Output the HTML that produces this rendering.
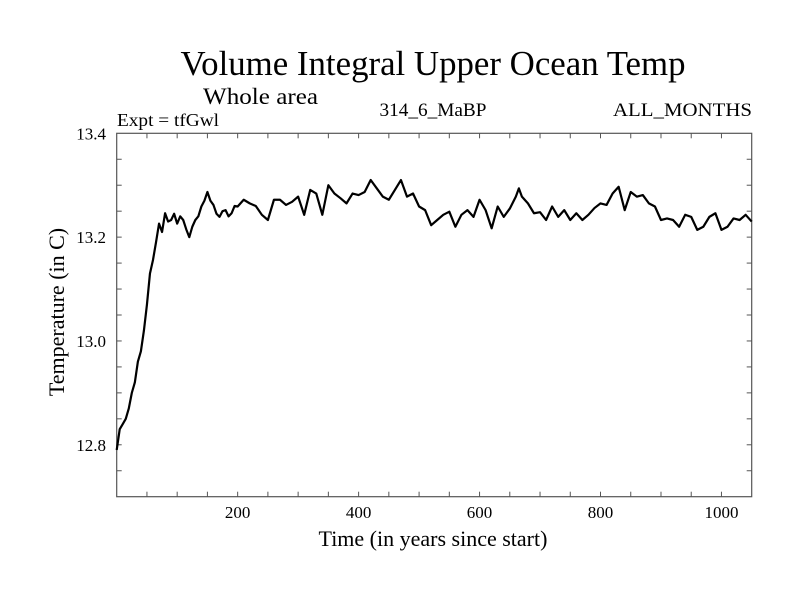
<!DOCTYPE html>
<html><head><meta charset="utf-8"><style>
html,body{margin:0;padding:0;background:#fff;}
svg{display:block;font-family:"Liberation Serif",serif;}
</style></head><body>
<svg id="chart" width="800" height="600" viewBox="0 0 800 600" xmlns="http://www.w3.org/2000/svg">
<rect width="800" height="600" fill="#fff"/>
<text x="433" y="75" font-size="35" text-anchor="middle" textLength="505" lengthAdjust="spacingAndGlyphs">Volume Integral Upper Ocean Temp</text>
<text x="203" y="104" font-size="23" textLength="115" lengthAdjust="spacingAndGlyphs">Whole area</text>
<text x="117" y="126" font-size="18" textLength="102" lengthAdjust="spacingAndGlyphs">Expt = tfGwl</text>
<text x="433" y="116" font-size="19" text-anchor="middle" textLength="107" lengthAdjust="spacingAndGlyphs">314_6_MaBP</text>
<text x="752" y="116" font-size="19" text-anchor="end" textLength="139" lengthAdjust="spacingAndGlyphs">ALL_MONTHS</text>
<g id="axes"></g>
<text x="433" y="546" font-size="22" text-anchor="middle">Time (in years since start)</text>
<text x="0" y="0" font-size="22" text-anchor="middle" transform="translate(64,312) rotate(-90)">Temperature (in C)</text>
</svg>
<script>
const years = [0,5,10,15,20,25,30,35,40,45,50,55,60,65,70,75,80,85,90,95,100,105,110,115,120,125,130,135,140,145,150,155,160,165,170,175,180,185,190,195,200,210,220,230,240,250,260,270,280,290,300,310,320,330,340,350,360,370,380,390,400,410,420,430,440,450,460,470,480,490,500,510,520,530,540,550,560,570,580,590,600,610,620,630,640,650,660,665,670,680,690,700,710,720,730,740,750,760,770,780,790,800,810,820,830,840,850,860,870,880,890,900,910,920,930,940,950,960,970,980,990,1000,1010,1020,1030,1040,1050];
const temps = [12.79,12.83,12.84,12.85,12.87,12.90,12.92,12.96,12.98,13.02,13.07,13.13,13.156,13.19,13.226,13.21,13.246,13.23,13.233,13.245,13.226,13.24,13.233,13.215,13.20,13.22,13.233,13.24,13.259,13.27,13.287,13.27,13.262,13.245,13.239,13.25,13.252,13.24,13.246,13.26,13.259,13.272,13.265,13.26,13.243,13.233,13.272,13.272,13.262,13.268,13.278,13.243,13.291,13.284,13.243,13.30,13.284,13.275,13.265,13.284,13.281,13.287,13.31,13.294,13.278,13.272,13.291,13.31,13.278,13.284,13.259,13.252,13.223,13.233,13.243,13.249,13.22,13.243,13.252,13.239,13.272,13.252,13.217,13.259,13.239,13.255,13.278,13.294,13.278,13.265,13.246,13.248,13.233,13.259,13.239,13.252,13.233,13.246,13.233,13.243,13.256,13.265,13.262,13.284,13.297,13.252,13.287,13.278,13.281,13.265,13.259,13.233,13.236,13.233,13.220,13.243,13.239,13.214,13.220,13.239,13.246,13.214,13.220,13.236,13.233,13.243,13.230];
const xTickVals = [200,400,600,800,1000];
const xTickLabels = ["200","400","600","800","1000"];
const yTickVals = [12.8,13.0,13.2,13.4];
const yTickLabels = ["12.8","13.0","13.2","13.4"];

const L=116.7,R=751.7,T=133.3,B=496.7;
const xMin=0,xMax=1050,yMin=12.7,yMax=13.4;
function sx(v){return L+(v-xMin)/(xMax-xMin)*(R-L);}
function sy(v){return B-(v-yMin)/(yMax-yMin)*(B-T);}
const NS="http://www.w3.org/2000/svg";
const g=document.getElementById('axes');
function mk(tag,attrs){const e=document.createElementNS(NS,tag);for(const k in attrs)e.setAttribute(k,attrs[k]);g.appendChild(e);return e;}

const frame=mk('rect',{x:L,y:T,width:R-L,height:B-T,fill:'none',stroke:'#555','stroke-width':1.2});



for(let v=50;v<xMax;v+=50){
  const x=sx(v);
  const t1=mk('line',{x1:x,x2:x,y1:B,y2:B-5,stroke:'#555','stroke-width':1});
  
  
  const t2=mk('line',{x1:x,x2:x,y1:T,y2:T+5,stroke:'#555','stroke-width':1});
  
  
}
for(let i=0;i<=14;i++){
  const v=yMin+i*0.05;
  if(v<=yMin+1e-9||v>=yMax-1e-9)continue;
  const y=sy(v);
  const t1=mk('line',{x1:L,x2:L+5,y1:y,y2:y,stroke:'#555','stroke-width':1});
  
  
  const t2=mk('line',{x1:R,x2:R-5,y1:y,y2:y,stroke:'#555','stroke-width':1});
  
  
}
xTickVals.forEach((v,i)=>{
  const t=mk('text',{x:sx(v),y:518,'font-size':17,'text-anchor':'middle'});
  t.textContent=xTickLabels[i];
  
  
});
yTickVals.forEach((v,i)=>{
  const t=mk('text',{x:106,y:sy(v)+6,'font-size':17,'text-anchor':'end'});
  t.textContent=yTickLabels[i];
  
  
});
const pts=years.map((yr,i)=>sx(yr).toFixed(2)+','+sy(temps[i]).toFixed(2)).join(' ');
const line=mk('polyline',{points:pts,fill:'none',stroke:'#000','stroke-width':2.2,'stroke-linejoin':'round'});


</script>
</body></html>
